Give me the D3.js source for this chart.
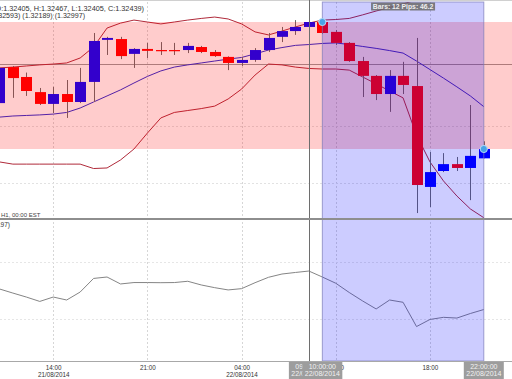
<!DOCTYPE html>
<html>
<head>
<meta charset="utf-8">
<script src="https://cdn.jsdelivr.net/npm/d3@7"></script>
<style>
    html, body { margin: 0; padding: 0; background: #fff; }
    svg { display: block; font-family: "Liberation Sans", Arial, sans-serif; }
</style>
</head>
<body>
<svg width="512" height="379"></svg>
<script>
    // hourly candles, 21/08 10:00 -> 22/08 22:00
    var times = [
        "2014-08-21 10:00", "2014-08-21 11:00", "2014-08-21 12:00", "2014-08-21 13:00",
        "2014-08-21 14:00", "2014-08-21 15:00", "2014-08-21 16:00", "2014-08-21 17:00",
        "2014-08-21 18:00", "2014-08-21 19:00", "2014-08-21 20:00", "2014-08-21 21:00",
        "2014-08-21 22:00", "2014-08-21 23:00", "2014-08-22 00:00", "2014-08-22 01:00",
        "2014-08-22 02:00", "2014-08-22 03:00", "2014-08-22 04:00", "2014-08-22 05:00",
        "2014-08-22 06:00", "2014-08-22 07:00", "2014-08-22 08:00", "2014-08-22 09:00",
        "2014-08-22 10:00", "2014-08-22 11:00", "2014-08-22 12:00", "2014-08-22 13:00",
        "2014-08-22 14:00", "2014-08-22 15:00", "2014-08-22 16:00", "2014-08-22 17:00",
        "2014-08-22 18:00", "2014-08-22 19:00", "2014-08-22 20:00", "2014-08-22 21:00",
        "2014-08-22 22:00"
    ];
    var open = [1.32606, 1.32737, 1.32701, 1.32646, 1.32603, 1.32639, 1.32610, 1.32683, 1.32836, 1.32839,
        1.32785, 1.32803, 1.32799, 1.32799, 1.32799, 1.32810, 1.32792, 1.32774, 1.32752, 1.32763,
        1.32799, 1.32847, 1.32868, 1.32883, 1.32901, 1.32865, 1.32825, 1.32759, 1.32705, 1.32639,
        1.32705, 1.32668, 1.32301, 1.32359, 1.32384, 1.32370, 1.32405];
    var high = [1.32741, 1.32741, 1.32717, 1.32661, 1.32665, 1.32690, 1.32734, 1.32861, 1.32847, 1.32847,
        1.32806, 1.32825, 1.32828, 1.32825, 1.32825, 1.32814, 1.32799, 1.32776, 1.32774, 1.32806,
        1.32861, 1.32883, 1.32908, 1.32919, 1.32916, 1.32872, 1.32828, 1.32774, 1.32708, 1.32726,
        1.32756, 1.32843, 1.32428, 1.32424, 1.32410, 1.32599, 1.32467];
    var low = [1.32595, 1.32625, 1.32632, 1.32599, 1.32570, 1.32552, 1.32606, 1.32610, 1.32781, 1.32766,
        1.32734, 1.32770, 1.32781, 1.32781, 1.32788, 1.32788, 1.32774, 1.32726, 1.32741, 1.32756,
        1.32792, 1.32828, 1.32854, 1.32879, 1.32857, 1.32817, 1.32756, 1.32628, 1.32617, 1.32574,
        1.32639, 1.32206, 1.32228, 1.32355, 1.32359, 1.32253, 1.32405];
    var close = [1.32734, 1.32697, 1.32650, 1.32603, 1.32639, 1.32610, 1.32683, 1.32832, 1.32843, 1.32777,
        1.32803, 1.32796, 1.32798, 1.32798, 1.32814, 1.32792, 1.32777, 1.32752, 1.32763, 1.32799,
        1.32843, 1.32868, 1.32883, 1.32901, 1.32861, 1.32825, 1.32759, 1.32705, 1.32639, 1.32705,
        1.32672, 1.32308, 1.32355, 1.32384, 1.32370, 1.32414, 1.32439];

    // bollinger bands
    var bbUpper = [1.32734, 1.32737, 1.32741, 1.32745, 1.32748, 1.32752, 1.32770, 1.32810, 1.32879, 1.32897,
        1.32908, 1.32901, 1.32894, 1.32901, 1.32908, 1.32914, 1.32919, 1.32912, 1.32894, 1.32865,
        1.32854, 1.32868, 1.32883, 1.32897, 1.32908, 1.32910, 1.32914, 1.32927, 1.32941, 1.32954,
        1.32967, 1.32981, 1.32992, 1.32996, 1.32999, 1.32999, 1.32997];
    var bbMiddle = [1.32555, 1.32559, 1.32561, 1.32563, 1.32566, 1.32572, 1.32588, 1.32610, 1.32632, 1.32654,
        1.32679, 1.32703, 1.32723, 1.32737, 1.32745, 1.32752, 1.32759, 1.32766, 1.32772, 1.32785,
        1.32799, 1.32808, 1.32816, 1.32819, 1.32823, 1.32825, 1.32819, 1.32812, 1.32805, 1.32797,
        1.32788, 1.32759, 1.32728, 1.32697, 1.32665, 1.32632, 1.32593];
    var bbLower = [1.32392, 1.32384, 1.32384, 1.32384, 1.32384, 1.32384, 1.32384, 1.32368, 1.32370, 1.32399,
        1.32439, 1.32497, 1.32552, 1.32572, 1.32579, 1.32586, 1.32595, 1.32621, 1.32657, 1.32708,
        1.32748, 1.32745, 1.32737, 1.32732, 1.32730, 1.32730, 1.32726, 1.32701, 1.32676, 1.32650,
        1.32625, 1.32490, 1.32392, 1.32323, 1.32268, 1.32221, 1.32189];

    // lower panel oscillator
    var rsi = [51.1, 48.2, 45.4, 42.3, 45.4, 43.3, 48.9, 58.5, 59.5, 54.6,
        55.6, 55.6, 55.5, 55.6, 56.5, 53.9, 52.0, 50.4, 51.3, 55.5,
        59.3, 61.6, 62.7, 63.7, 59.5, 55.1, 48.6, 42.6, 37.0, 43.3,
        41.7, 24.6, 29.6, 31.1, 30.6, 33.8, 36.6];

    var tickTimes = ["2014-08-21 14:00", "2014-08-21 21:00", "2014-08-22 04:00", "2014-08-22 11:00", "2014-08-22 18:00"];
    var tickDates = ["21/08/2014", "", "22/08/2014", "", ""];
    var gridPrices = [1.32523, 1.32315];
    var levelPrices = [1.32748];
    var rsiGrid = [70, 30];
    var measureTimes = ["2014-08-22 10:00", "2014-08-22 22:00"];
    var measurePrices = [1.32901, 1.32439];
    var cursorTimes = ["2014-08-22 09:00", "2014-08-22 10:00", "2014-08-22 22:00"];

    var parse = d3.timeParse("%Y-%m-%d %H:%M"),
        fmtHM = d3.timeFormat("%H:%M"),
        fmtHMS = d3.timeFormat("%H:%M:%S"),
        fmtDay = d3.timeFormat("%d/%m/%Y");

    var width = 512,
        mainTop = 2,
        mainBottom = 218,
        axisY = 361;

    var data = times.map(function(t, i) {
        return {t: parse(t), o: open[i], h: high[i], l: low[i], c: close[i],
            up: bbUpper[i], mid: bbMiddle[i], lo: bbLower[i], rsi: rsi[i]};
    });

    var x = d3.scaleTime().domain([data[0].t, data[data.length - 1].t]).range([-0.6, 483.8]),
        y = d3.scaleLinear().domain([measurePrices[1], measurePrices[0]]).range([149, 22]),
        yr = d3.scaleLinear().domain([0, 100]).range([361.5, 219.5]);

    var svg = d3.select("svg");

    var defs = svg.append("defs");
    defs.append("clipPath").attr("id", "clip-main")
        .append("rect").attr("x", 0).attr("y", mainTop).attr("width", width).attr("height", mainBottom - mainTop);
    defs.append("clipPath").attr("id", "clip-low")
        .append("rect").attr("x", 0).attr("y", 220).attr("width", width).attr("height", axisY - 220);

    svg.append("rect").attr("width", width).attr("height", 379).attr("fill", "#fff");
    svg.append("line").attr("x1", 0).attr("x2", width).attr("y1", 0.5).attr("y2", 0.5)
        .style("stroke", "#d0d0d0");

    // grid
    svg.append("g").selectAll("line")
        .data(tickTimes)
        .enter().append("line")
        .attr("x1", function(d) { return Math.round(x(parse(d))) + 0.5; })
        .attr("x2", function(d) { return Math.round(x(parse(d))) + 0.5; })
        .attr("y1", mainTop)
        .attr("y2", axisY)
        .style("stroke", "#d6d6d6")
        .style("stroke-dasharray", "2,2");

    svg.append("g").selectAll("line")
        .data(gridPrices)
        .enter().append("line")
        .attr("x1", 0).attr("x2", width)
        .attr("y1", function(d) { return Math.round(y(d)) + 0.5; })
        .attr("y2", function(d) { return Math.round(y(d)) + 0.5; })
        .style("stroke", "#e2e2e2")
        .style("stroke-dasharray", "2,2");

    svg.append("g").selectAll("line")
        .data(rsiGrid)
        .enter().append("line")
        .attr("x1", 0).attr("x2", width)
        .attr("y1", function(d) { return Math.round(yr(d)) + 0.5; })
        .attr("y2", function(d) { return Math.round(yr(d)) + 0.5; })
        .style("stroke", "#e6e6e6")
        .style("stroke-dasharray", "2,2");

    svg.append("g").selectAll("line")
        .data(levelPrices)
        .enter().append("line")
        .attr("x1", 0).attr("x2", width)
        .attr("y1", function(d) { return Math.round(y(d)) + 0.5; })
        .attr("y2", function(d) { return Math.round(y(d)) + 0.5; })
        .style("stroke", "#9a9a9a");

    // bollinger bands
    var main = svg.append("g").attr("clip-path", "url(#clip-main)");

    function band(key) {
        return d3.line().x(function(d) { return x(d.t); }).y(function(d) { return y(d[key]); });
    }
    main.append("path").datum(data).attr("d", band("up"))
        .style("fill", "none").style("stroke", "#b02a3a").style("stroke-width", 1);
    main.append("path").datum(data).attr("d", band("lo"))
        .style("fill", "none").style("stroke", "#b02a3a").style("stroke-width", 1);
    main.append("path").datum(data).attr("d", band("mid"))
        .style("fill", "none").style("stroke", "#2a2ad0").style("stroke-width", 1);

    // candles
    var candle = main.selectAll(".candle")
        .data(data)
        .enter().append("g")
        .attr("class", "candle");

    candle.append("line")
        .attr("x1", function(d) { return Math.round(x(d.t)) + 0.5; })
        .attr("x2", function(d) { return Math.round(x(d.t)) + 0.5; })
        .attr("y1", function(d) { return y(d.h); })
        .attr("y2", function(d) { return y(d.l); })
        .style("stroke", "#6a6a6a");

    candle.append("rect")
        .attr("x", function(d) { return Math.round(x(d.t)) - 5; })
        .attr("width", 11)
        .attr("y", function(d) { return Math.min(y(d.o), y(d.c)); })
        .attr("height", function(d) { return Math.max(1.2, Math.abs(y(d.o) - y(d.c))); })
        .style("fill", function(d) { return d.c > d.o ? "#0000ff" : "#ff0000"; });

    // lower panel line
    svg.append("g").attr("clip-path", "url(#clip-low)")
        .append("path").datum(data)
        .attr("d", d3.line().x(function(d) { return x(d.t); }).y(function(d) { return yr(d.rsi); }))
        .style("fill", "none").style("stroke", "#858585").style("stroke-width", 1);

    // measure overlays
    var mx0 = x(parse(measureTimes[0])),
        mx1 = x(parse(measureTimes[1]));

    svg.append("rect")
        .attr("x", 0).attr("width", width)
        .attr("y", y(measurePrices[0]))
        .attr("height", y(measurePrices[1]) - y(measurePrices[0]))
        .style("fill", "#ff0000").style("fill-opacity", 0.2);

    svg.append("rect")
        .attr("x", mx0).attr("width", mx1 - mx0)
        .attr("y", mainTop).attr("height", axisY - mainTop)
        .style("fill", "#0000ff").style("fill-opacity", 0.2)
        .style("stroke", "#7a7ab8").style("stroke-opacity", 0.7);

    // crosshair
    var cx = Math.round(x(parse(cursorTimes[0]))) + 0.5;
    svg.append("line")
        .attr("x1", cx).attr("x2", cx).attr("y1", 0).attr("y2", axisY)
        .style("stroke", "#6e6e6e");

    // panel separator + axis line
    svg.append("line").attr("x1", 0).attr("x2", width).attr("y1", 219).attr("y2", 219)
        .style("stroke", "#8e8e8e").style("stroke-width", 1.8);
    svg.append("line").attr("x1", 0).attr("x2", width).attr("y1", axisY + 0.5).attr("y2", axisY + 0.5)
        .style("stroke", "#a8a8a8");

    // endpoints
    svg.selectAll(".dot")
        .data([0, 1])
        .enter().append("circle")
        .attr("class", "dot")
        .attr("cx", function(i) { return x(parse(measureTimes[i])); })
        .attr("cy", function(i) { return y(measurePrices[i]); })
        .attr("r", 3.6)
        .style("fill", "#4aa3e6")
        .style("stroke", "#b5dcf6")
        .style("stroke-width", 1);

    // measure label
    var bars = times.indexOf(measureTimes[1]) - times.indexOf(measureTimes[0]),
        pips = Math.round((measurePrices[0] - measurePrices[1]) * 100000) / 10,
        mxm = (mx0 + mx1) / 2;
    svg.append("rect")
        .attr("x", mxm - 32).attr("y", 2.5).attr("width", 64).attr("height", 8)
        .style("fill", "#6a6a6a").style("fill-opacity", 0.85);
    svg.append("text")
        .attr("x", mxm).attr("y", 9)
        .attr("text-anchor", "middle")
        .style("font-size", "6.8px").style("font-weight", "bold").style("fill", "#eeeeee")
        .text("Bars: " + bars + " Pips: " + pips);

    // header texts
    var last = data[data.length - 1];
    svg.append("text")
        .attr("x", 144).attr("y", 10.7).attr("text-anchor", "end")
        .style("font-size", "7.3px").style("fill", "#333")
        .text("EURUSD,H1 (O:" + last.o.toFixed(5) + ", H:" + last.h.toFixed(5) + ", L:" + last.l.toFixed(5) + ", C:" + last.c.toFixed(5) + ")");
    svg.append("text")
        .attr("x", 85).attr("y", 18).attr("text-anchor", "end")
        .style("font-size", "7.1px").style("fill", "#333")
        .text("BB(20, 2) (" + last.mid.toFixed(5) + ") (" + last.lo.toFixed(5) + ") (" + last.up.toFixed(5) + ")");
    svg.append("text")
        .attr("x", 1).attr("y", 216.5)
        .style("font-size", "6px").style("fill", "#444")
        .text("H1, 00:00 EST");
    svg.append("text")
        .attr("x", 10).attr("y", 226.5).attr("text-anchor", "end")
        .style("font-size", "6.5px").style("fill", "#333")
        .text("RSI(14) (36.6197)");

    // x axis
    var xAxis = svg.append("g")
        .attr("class", "axis axis--x")
        .attr("transform", "translate(0," + axisY + ")")
        .call(d3.axisBottom(x).tickValues(tickTimes.map(parse)).tickSize(0).tickFormat(fmtHM));
    xAxis.select(".domain").remove();
    xAxis.selectAll(".tick text")
        .attr("y", 8.5).attr("dy", 0)
        .style("font-size", "6.3px").style("fill", "#333")
        .style("font-family", "'Liberation Sans', Arial, sans-serif");
    xAxis.selectAll(".tick")
        .append("text")
        .attr("y", 15.5)
        .attr("text-anchor", "middle")
        .style("font-size", "6.3px").style("fill", "#333")
        .style("font-family", "'Liberation Sans', Arial, sans-serif")
        .text(function(d, i) { return tickDates[i]; });

    // cursor time boxes
    var box = svg.selectAll(".tbox")
        .data(cursorTimes)
        .enter().append("g")
        .attr("class", "tbox")
        .attr("transform", function(d) { return "translate(" + x(parse(d)) + "," + (axisY + 1) + ")"; });
    box.append("rect")
        .attr("x", -20).attr("y", 0).attr("width", 40).attr("height", 20)
        .style("fill", "#9d9d9d");
    box.append("text")
        .attr("y", 6.8).attr("text-anchor", "middle")
        .style("font-size", "7px").style("fill", "#f2f2f2")
        .text(function(d) { return fmtHMS(parse(d)); });
    box.append("text")
        .attr("y", 14.2).attr("text-anchor", "middle")
        .style("font-size", "7px").style("fill", "#f2f2f2")
        .text(function(d) { return fmtDay(parse(d)); });
</script>
</body>
</html>
